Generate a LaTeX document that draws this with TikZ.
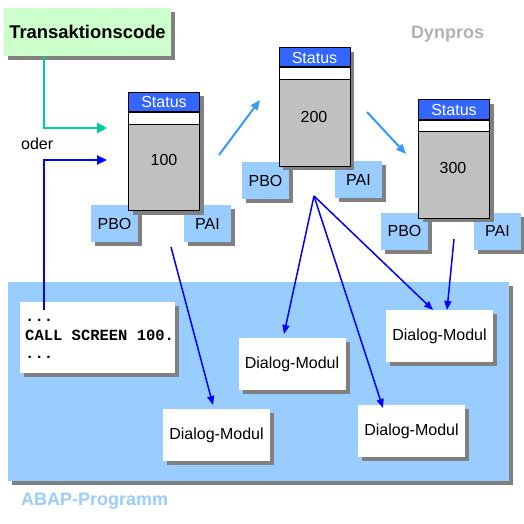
\documentclass[tikz,border=0pt]{standalone}
\usepackage{fontspec}
\setmainfont{Liberation Sans}
\newfontfamily\codefont{Liberation Mono}
\usetikzlibrary{arrows.meta,shadows}
\definecolor{tcgreen}{HTML}{CCFFCC}
\definecolor{arrgreen}{HTML}{00CC99}
\definecolor{lblue}{HTML}{99CCFF}
\definecolor{midblue}{HTML}{3399FF}
\definecolor{hdrblue}{HTML}{3366FF}
\definecolor{dyngray}{HTML}{C0C0C0}
\definecolor{shgray}{HTML}{808080}
\definecolor{labgray}{HTML}{B2B2B2}
\definecolor{pureblue}{HTML}{0000FF}
\begin{document}
\begin{tikzpicture}[x=1pt,y=-1pt,
  shd/.style={drop shadow={shadow xshift=4pt,shadow yshift=-4pt,fill=shgray,opacity=1}},
  txtsixteen/.style={font=\fontsize{16}{19}\selectfont},
  tcbox/.style={shd,fill=tcgreen,minimum width=167pt,minimum height=48pt,inner sep=0pt,font=\fontsize{18.4}{22}\selectfont\bfseries},
  dynbox/.style={shd,fill=dyngray,draw=black,line width=1pt,minimum width=71pt,minimum height=118pt,inner sep=0pt},
  hdrbox/.style={fill=hdrblue,draw=black,line width=1pt,minimum width=71pt,minimum height=19pt,inner sep=0pt,text=white,txtsixteen,anchor=north},
  stripbox/.style={fill=white,draw=black,line width=1pt,minimum width=71pt,minimum height=11.5pt,inner sep=0pt,anchor=north},
  evbox/.style={shd,fill=lblue,minimum width=47pt,minimum height=37pt,inner sep=0pt,txtsixteen},
  dmbox/.style={shd,fill=white,minimum width=107pt,minimum height=52pt,inner sep=0pt,txtsixteen},
  numtxt/.style={txtsixteen,inner sep=0pt},
  biglabel/.style={font=\fontsize{18}{22}\selectfont\bfseries,inner sep=0pt},
  greenarrow/.style={draw=arrgreen,line width=2.5pt,-{Triangle[length=10pt,width=10pt]}},
  bluearrow/.style={draw=pureblue,line width=2pt,-{Triangle[length=10pt,width=9pt]}},
  fanarrow/.style={draw=pureblue,line width=1.5pt,-{Triangle[length=9pt,width=7pt]}},
  flowarrow/.style={draw=midblue,line width=2pt,-{Triangle[length=10pt,width=8pt]}}
]
\useasboundingbox (0,0) rectangle (524,524);

% ABAP program area
\node[shd,fill=lblue,minimum width=501pt,minimum height=199pt,inner sep=0pt] (abap) at (258.5,381.5) {};
\node[biglabel,text=lblue,anchor=west] (abaplab) at (21,501) {ABAP-Programm};

% code box
\node[shd,fill=white,minimum width=155pt,minimum height=71pt,inner sep=0pt] (code) at (97.5,337.5) {};
\node[anchor=west,inner sep=0pt,align=left,font=\codefont\bfseries\fontsize{15.5}{18.5}\selectfont] (codetxt) at (25,339) {...\\CALL SCREEN 100.\\...};

% dialog modules
\node[dmbox] (dm1) at (216.5,435) {Dialog-Modul};
\node[dmbox] (dm2) at (292,364) {Dialog-Modul};
\node[dmbox] (dm3) at (439.5,336) {Dialog-Modul};
\node[dmbox] (dm4) at (411.5,431) {Dialog-Modul};

% transaction code
\node[tcbox] (tc) at (87.5,32) {Transaktionscode};
\node[txtsixteen,anchor=west,inner sep=0pt] (oder) at (21,144) {oder};
\node[biglabel,text=labgray] (dynlab) at (447.5,34) {Dynpros};

% PBO / PAI
\node[evbox] (pbo1) at (114.5,223.5) {PBO};
\node[evbox] (pai1) at (207.5,223.5) {PAI};
\node[evbox] (pbo2) at (265.5,180.5) {PBO};
\node[evbox] (pai2) at (358.5,179.5) {PAI};
\node[evbox] (pbo3) at (404.5,231) {PBO};
\node[evbox] (pai3) at (497.5,231) {PAI};

% Dynpro 100
\node[dynbox] (d1) at (164,151.5) {};
\node[hdrbox] (h1) at (d1.north) {Status};
\node[stripbox] (s1) at (h1.south) {};
\node[numtxt] (n1) at (164,160) {100};
% Dynpro 200
\node[dynbox] (d2) at (314.5,107) {};
\node[hdrbox] (h2) at (d2.north) {Status};
\node[stripbox] (s2) at (h2.south) {};
\node[numtxt] (n2) at (314,117) {200};
% Dynpro 300
\node[dynbox] (d3) at (454,159) {};
\node[hdrbox] (h3) at (d3.north) {Status};
\node[stripbox] (s3) at (h3.south) {};
\node[numtxt] (n3) at (453,168) {300};

% coordinates for free ends
\coordinate (gend) at (107,128);
\coordinate (bend) at (107,160);
\coordinate (cstart) at (44,310);
\coordinate (f1a) at (219,155);
\coordinate (f1b) at (260,100);
\coordinate (f2a) at (367,112);
\coordinate (f2b) at (406,154);
\coordinate (fan) at (314,196);
\coordinate (p1) at (171,247);
\coordinate (p3) at (454,239);

% connectors
\draw[greenarrow] (tc.south -| 44,0) |- (gend);
\draw[bluearrow] (cstart) |- (bend);
\draw[flowarrow] (f1a) -- (f1b);
\draw[flowarrow] (f2a) -- (f2b);
\draw[fanarrow] (p1) -- (213,405);
\draw[fanarrow] (fan) -- (284,334);
\draw[fanarrow] (fan) -- (383,408);
\draw[fanarrow] (fan) -- (433,310);
\draw[fanarrow] (p3) -- (447,310);
\end{tikzpicture}
\end{document}
